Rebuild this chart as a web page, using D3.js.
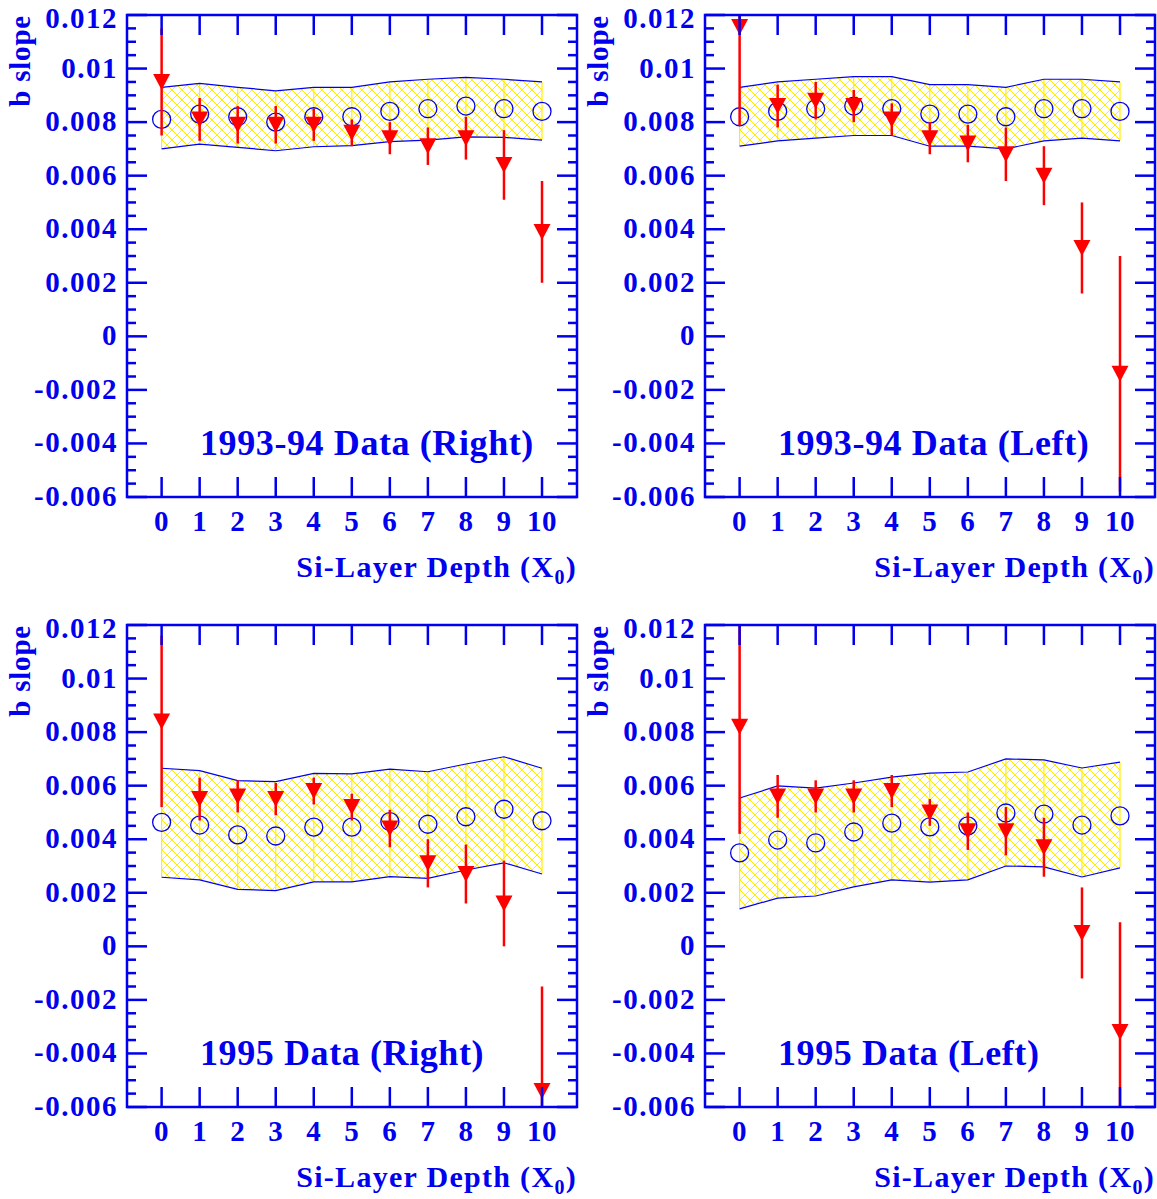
<!DOCTYPE html>
<html><head><meta charset="utf-8">
<script src="https://cdn.jsdelivr.net/npm/d3@7"></script>
<style>body{margin:0;background:#fff}</style></head>
<body><svg id="c" width="1157" height="1199"></svg>
<script>
const layers=[0,1,2,3,4,5,6,7,8,9,10];
const yTicks=[0.012,0.01,0.008,0.006,0.004,0.002,0,-0.002,-0.004,-0.006];
const yTickLabels=["0.012","0.01","0.008","0.006","0.004","0.002","0","-0.002","-0.004","-0.006"];
const titles=["1993-94 Data (Right)","1993-94 Data (Left)","1995 Data (Right)","1995 Data (Left)"];
const dataR94=[0.0095,0.0081,0.0079,0.0079,0.0079,0.0076,0.0074,0.0071,0.0074,0.0064,0.0039];
const errR94=[0.0020,0.0008,0.0007,0.0007,0.0006,0.0005,0.0006,0.0007,0.0008,0.0013,0.0019];
const mcR94=[0.0081,0.0083,0.0082,0.0080,0.0082,0.0082,0.0084,0.0085,0.0086,0.0085,0.0084];
const upR94=[0.0093,0.00945,0.0093,0.00917,0.0093,0.0093,0.0095,0.0096,0.00967,0.0096,0.0095];
const loR94=[0.0070,0.00718,0.00706,0.00693,0.00708,0.00712,0.00727,0.00733,0.00745,0.00743,0.00733];
const dataL94=[0.01155,0.0086,0.0088,0.0086,0.0081,0.0074,0.0072,0.0068,0.0060,0.0033,-0.0014];
const errL94=[0.0037,0.0008,0.0007,0.0006,0.0006,0.0006,0.0007,0.0010,0.0011,0.0017,0.0044];
const mcL94=[0.0082,0.0084,0.0085,0.0086,0.0085,0.0083,0.0083,0.0082,0.0085,0.0085,0.0084];
const upL94=[0.0093,0.0095,0.0096,0.0097,0.0097,0.0094,0.0094,0.0093,0.0096,0.0096,0.0095];
const loL94=[0.0071,0.0073,0.0074,0.0075,0.0075,0.0071,0.0071,0.0070,0.0073,0.0074,0.0073];
const dataR95=[0.0084,0.0055,0.0056,0.0055,0.0058,0.0052,0.0044,0.0031,0.0027,0.0016,-0.0054];
const errR95=[0.0032,0.0008,0.0006,0.0006,0.0005,0.0005,0.0007,0.0009,0.0011,0.0016,0.0039];
const mcR95=[0.00463,0.00453,0.00416,0.00412,0.00445,0.00445,0.00466,0.00456,0.00484,0.00512,0.00469];
const upR95=[0.00665,0.00656,0.00619,0.00615,0.00646,0.00644,0.00662,0.00652,0.00681,0.00708,0.00665];
const loR95=[0.00258,0.00248,0.00213,0.00208,0.00241,0.00241,0.0026,0.00254,0.00285,0.00312,0.0027];
const dataL95=[0.0082,0.0056,0.0056,0.0056,0.0058,0.0050,0.0043,0.0043,0.0037,0.0005,-0.0032];
const errL95=[0.0040,0.0008,0.0006,0.0006,0.0006,0.0005,0.0007,0.0009,0.0011,0.0017,0.0041];
const mcL95=[0.00349,0.00397,0.00386,0.00427,0.0046,0.00446,0.0045,0.00498,0.00494,0.00453,0.00487];
const upL95=[0.00554,0.00599,0.00591,0.0061,0.00632,0.00647,0.00651,0.007,0.00696,0.00666,0.00688];
const loL95=[0.0014,0.0018,0.00188,0.00222,0.00248,0.0024,0.00248,0.003,0.00297,0.00259,0.00293];

const panels=[
 {x0:127,y0:15,d:dataR94,e:errR94,m:mcR94,u:upR94,l:loR94,t:titles[0]},
 {x0:705,y0:15,d:dataL94,e:errL94,m:mcL94,u:upL94,l:loL94,t:titles[1]},
 {x0:127,y0:625,d:dataR95,e:errR95,m:mcR95,u:upR95,l:loR95,t:titles[2]},
 {x0:705,y0:625,d:dataL95,e:errL95,m:mcL95,u:upL95,l:loL95,t:titles[3]}];
const W=450,H=482,BLUE="#0000ee",RED="#ff0000",FONT="'Liberation Serif','Times New Roman',serif";
const svg=d3.select("#c");
const defs=svg.append("defs");
const pat=defs.append("pattern").attr("id","hatch").attr("patternUnits","userSpaceOnUse").attr("width",10).attr("height",10);
pat.append("path").attr("d","M0,0L10,10M10,0L0,10M-1,9L1,11M9,-1L11,1M-1,1L1,-1M9,11L11,9").attr("stroke","#ffee00").attr("stroke-width",1);

function style(t,size,ls){t.attr("font-family",FONT).attr("font-weight","bold").attr("fill",BLUE).attr("font-size",size);if(ls)t.attr("letter-spacing",ls);return t;}

panels.forEach((p,pi)=>{
  const g=svg.append("g").attr("transform",`translate(${p.x0},${p.y0})`);
  const x=d3.scaleLinear().domain([-0.91,10.92]).range([0,W]);
  const y=d3.scaleLinear().domain([-0.006,0.012]).range([H,0]);
  const cp="clip"+pi;
  defs.append("clipPath").attr("id",cp).append("rect").attr("width",W).attr("height",H);
  const pg=g.append("g").attr("clip-path",`url(#${cp})`);
  const area=d3.area().x((d,i)=>x(layers[i])).y0((d,i)=>y(p.l[i])).y1((d,i)=>y(p.u[i]));
  pg.append("path").datum(p.u).attr("d",area).attr("fill","url(#hatch)");
  layers.forEach((L,i)=>pg.append("line").attr("x1",x(L)).attr("x2",x(L)).attr("y1",y(p.l[i])).attr("y2",y(p.u[i])).attr("stroke","#ffee00").attr("stroke-width",1.2));
  [p.u,p.l].forEach(arr=>pg.append("path").datum(arr).attr("d",d3.line().x((d,i)=>x(layers[i])).y(d=>y(d))).attr("fill","none").attr("stroke",BLUE).attr("stroke-width",1.2));
  layers.forEach((L,i)=>pg.append("circle").attr("cx",x(L)).attr("cy",y(p.m[i])).attr("r",9).attr("fill","none").attr("stroke",BLUE).attr("stroke-width",1.3));
  layers.forEach((L,i)=>{
    pg.append("line").attr("x1",x(L)).attr("x2",x(L)).attr("y1",y(p.d[i]+p.e[i])).attr("y2",y(p.d[i]-p.e[i])).attr("stroke",RED).attr("stroke-width",2.5);
    const cx=x(L),cy=y(p.d[i]);
    pg.append("path").attr("d",`M${cx-8.5},${cy-8}L${cx+8.5},${cy-8}L${cx},${cy+8}Z`).attr("fill",RED);
  });
  g.append("rect").attr("width",W).attr("height",H).attr("fill","none").attr("stroke",BLUE).attr("stroke-width",2.5);
  const minor=d3.range(-0.006,0.01201,0.0005);
  minor.forEach(v=>{
    const major=Math.abs(Math.round(v/0.002)*0.002-v)<1e-7;
    const len=major?20:9;
    g.append("line").attr("x1",0).attr("x2",len).attr("y1",y(v)).attr("y2",y(v)).attr("stroke",BLUE).attr("stroke-width",2.5);
    g.append("line").attr("x1",W).attr("x2",W-len).attr("y1",y(v)).attr("y2",y(v)).attr("stroke",BLUE).attr("stroke-width",2.5);
  });
  layers.forEach(L=>{
    g.append("line").attr("x1",x(L)).attr("x2",x(L)).attr("y1",0).attr("y2",20).attr("stroke",BLUE).attr("stroke-width",2.5);
    g.append("line").attr("x1",x(L)).attr("x2",x(L)).attr("y1",H).attr("y2",H-20).attr("stroke",BLUE).attr("stroke-width",2.5);
  });
  yTicks.forEach((v,i)=>{
    style(g.append("text").attr("x",-9).attr("y",Math.max(y(v)+9,13)).attr("text-anchor","end").text(yTickLabels[i]),29,1.5);
  });
  layers.forEach(L=>{
    style(g.append("text").attr("x",x(L)).attr("y",H+34).attr("text-anchor","middle").text(L),29,0.5);
  });
  const xt=style(g.append("text").attr("x",W).attr("y",H+80).attr("text-anchor","end"),30,1.3);
  xt.append("tspan").text("Si-Layer Depth (X");
  xt.append("tspan").attr("font-size",20).attr("dy",7).text("0");
  xt.append("tspan").attr("dy",-7).text(")");
  style(g.append("text").attr("transform",`translate(-97,0) rotate(-90)`).attr("text-anchor","end").text("b slope"),29,0.8);
  style(g.append("text").attr("x",73).attr("y",y(-0.004)+12).attr("text-anchor","start").text(p.t),36,0.6);
});
</script></body></html>
